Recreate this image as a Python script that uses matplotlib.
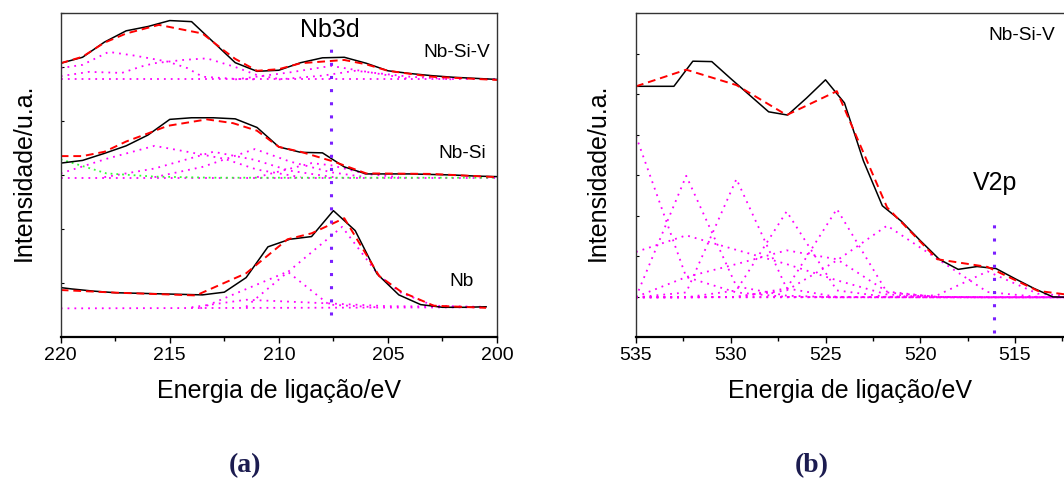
import matplotlib
matplotlib.use('Agg')
import matplotlib.pyplot as plt
from matplotlib.ticker import MultipleLocator, FixedLocator

plt.rcParams['font.family'] = ['Liberation Sans', 'DejaVu Sans']

# ---------------- Panel (a): Nb3d ----------------
E_a = [220, 219, 218, 217, 216, 215, 214, 213, 212, 211, 210,
       209, 208, 207, 206, 205, 204, 203, 202, 201, 200]
nbsiv_exp = [5.07, 5.18, 5.46, 5.67, 5.75, 5.86, 5.84, 5.46, 5.08, 4.92, 4.94,
             5.08, 5.17, 5.18, 5.07, 4.93, 4.88, 4.84, 4.81, 4.79, 4.77]
nbsi_exp = [3.22, 3.27, 3.40, 3.54, 3.74, 4.03, 4.06, 4.06, 4.04, 3.88, 3.52,
            3.42, 3.41, 3.15, 3.02, 3.02, 3.02, 3.01, 3.00, 2.98, 2.97]
E_nb = [220.5, 219.5, 218.5, 217.5, 216.5, 215.5, 214.5, 213.5, 212.5, 211.5, 210.5,
        209.5, 208.5, 207.5, 206.5, 205.5, 204.5, 203.5, 202.5, 201.5, 200.5]
nb_exp = [0.94, 0.89, 0.85, 0.82, 0.81, 0.80, 0.79, 0.78, 0.83, 1.10, 1.67,
          1.81, 1.86, 2.34, 1.97, 1.17, 0.78, 0.60, 0.55, 0.55, 0.56]

nbsiv_fit_E = [220, 219, 218, 217, 215.5, 214.5, 213.5, 212.5, 212, 211, 210, 209, 208, 207, 206, 205, 203, 200]
nbsiv_fit = [5.07, 5.19, 5.45, 5.62, 5.78, 5.70, 5.62, 5.30, 5.15, 4.93, 4.96, 5.07, 5.10, 5.13, 5.05, 4.93, 4.82, 4.76]
nbsi_fit_E = [220, 219, 218, 217, 216, 215.1, 213.3, 212.1, 211, 210, 209, 207.5, 206, 203, 200]
nbsi_fit = [3.35, 3.35, 3.43, 3.62, 3.77, 3.91, 4.03, 3.96, 3.82, 3.52, 3.43, 3.25, 3.03, 3.02, 2.96]
nb_fit_E = [220, 217.4, 213.8, 211.5, 209.6, 208.5, 207.0, 205.4, 204.4, 202.9, 200.5]
nb_fit = [0.87, 0.82, 0.77, 1.18, 1.81, 1.92, 2.20, 1.13, 0.84, 0.58, 0.54]

# fitted components (Nb-Si-V)
nbsiv_base_E = [220, 200]
nbsiv_base = [4.77, 4.77]
nbsiv_c1_E = [220, 219, 217.8, 216.6, 215.1, 214.2, 213.5, 212, 211]
nbsiv_c1 = [4.98, 5.04, 5.28, 5.21, 5.10, 4.98, 4.82, 4.78, 4.77]
nbsiv_c2_E = [220, 218.7, 217.2, 216.3, 215.7, 214.4, 213.3, 212.0, 211.0, 210]
nbsiv_c2 = [4.83, 4.91, 4.89, 5.01, 5.07, 5.13, 5.16, 5.00, 4.85, 4.78]
nbsiv_c3_E = [212, 209.5, 207.6, 205.5, 204]
nbsiv_c3 = [4.77, 4.90, 5.02, 4.88, 4.78]
nbsiv_c4_E = [210, 208, 206.5, 204, 202]
nbsiv_c4 = [4.77, 4.84, 4.93, 4.82, 4.77]

# fitted components (Nb-Si)
nbsi_base_E = [220, 200]
nbsi_base = [2.95, 2.95]
nbsi_green_E = [220, 217.9, 215.7, 213, 200]
nbsi_green = [3.29, 3.03, 2.97, 2.95, 2.95]
nbsi_c1_E = [220, 217.9, 215.7, 214.2, 212.5, 211, 209]
nbsi_c1 = [3.03, 3.30, 3.54, 3.43, 3.30, 3.10, 2.96]
nbsi_c2_E = [218, 215.7, 213.0, 211.1, 209.5, 207.5]
nbsi_c2 = [2.96, 3.12, 3.43, 3.28, 3.08, 2.96]
nbsi_c3_E = [215.7, 213.5, 211.1, 209.5, 207.6, 206]
nbsi_c3 = [2.96, 3.15, 3.48, 3.25, 3.05, 2.96]
nbsi_c4_E = [211, 208.5, 207.6, 206, 204.5]
nbsi_c4 = [2.96, 3.22, 3.18, 3.02, 2.96]

# fitted components (Nb)
nb_base_E = [220, 200.5]
nb_base = [0.53, 0.55]
nb_c1_E = [213.6, 209.6, 207.7, 205.5]
nb_c1 = [0.53, 1.21, 0.60, 0.55]
nb_c2_E = [211.5, 207.1, 205.4, 204.4, 202.9, 200.5]
nb_c2 = [0.56, 2.04, 1.13, 0.82, 0.58, 0.55]
nb_c3_E = [214.0, 211.5, 207.6, 205.0, 200.5]
nb_c3 = [0.55, 0.69, 0.62, 0.57, 0.56]

nb3d_E = 207.6
nb3d_span = [0.41, 5.45]

# ---------------- Panel (b): V2p ----------------
E_b = [535, 534, 533, 532, 531, 530, 529, 528, 527, 526, 525, 524,
       523, 522, 521, 520, 519, 518, 517, 516, 515, 514, 513, 512]
v_exp = [6.19, 6.19, 6.19, 6.81, 6.80, 6.38, 5.97, 5.56, 5.48, 5.90, 6.35, 5.78,
         4.35, 3.24, 2.86, 2.38, 1.92, 1.67, 1.74, 1.69, 1.44, 1.20, 0.99, 0.98]
E_g = [535, 532.35, 529.7, 527.05, 524.4, 521.75, 519.1, 516.45, 513.8, 511.15]
v_fit = [6.19, 6.60, 6.22, 5.48, 6.07, 3.20, 1.92, 1.73, 1.14, 0.98]
v_base_E = [535, 510]
v_base = [0.98, 0.98]
v_c0 = [4.96, 1.48, 1.10, 0.99, 0.98, 0.98, 0.98, 0.98, 0.98, 0.98]
v_c1 = [0.99, 3.98, 1.25, 1.02, 0.98, 0.98, 0.98, 0.98, 0.98, 0.98]
v_c2 = [0.98, 1.10, 3.90, 1.20, 0.99, 0.98, 0.98, 0.98, 0.98, 0.98]
v_c3 = [0.98, 0.98, 1.15, 3.10, 1.15, 0.99, 0.98, 0.98, 0.98, 0.98]
v_c4 = [0.98, 0.98, 0.99, 1.20, 3.16, 1.10, 0.99, 0.98, 0.98, 0.98]
v_c5 = [0.98, 0.98, 0.99, 1.15, 1.89, 2.75, 1.93, 1.11, 0.99, 0.98]
v_c6 = [2.10, 2.51, 2.15, 1.80, 1.40, 1.05, 0.99, 0.98, 0.98, 0.98]
v_c7 = [0.99, 1.48, 1.80, 2.14, 1.92, 1.12, 0.99, 0.98, 0.98, 0.98]
v_c8 = [0.98, 0.98, 0.98, 0.98, 0.98, 0.99, 1.03, 1.62, 1.07, 0.98]

v2p_E = 516.1
v2p_span = [0.10, 2.80]

xticks_a = [220, 215, 210, 205, 200]
xticks_b = [535, 530, 525, 520, 515]

# ---------------- styles ----------------
MAG = '#ff00ff'
RED = '#ff0000'
VIO = '#7b1fff'
comp_kw = dict(color=MAG, lw=1.3, linestyle=(0, (1, 2.8)))
fit_kw = dict(color=RED, lw=1.4, linestyle=(0, (4, 2.5)))
exp_kw = dict(color='black', lw=1.1)
vline_kw = dict(color=VIO, lw=2.2, linestyle=(0, (1, 3.3)))

fig = plt.figure(figsize=(10.64, 4.79), dpi=100)
W, H = 1064, 479
axA = fig.add_axes([60.7 / W, (H - 337) / H, 436.3 / W, 324 / H])
axB = fig.add_axes([636 / W, (H - 337) / H, 473.75 / W, 324 / H])

# panel a components
for ex, ey in [(nbsiv_base_E, nbsiv_base), (nbsiv_c1_E, nbsiv_c1), (nbsiv_c2_E, nbsiv_c2),
               (nbsiv_c3_E, nbsiv_c3), (nbsiv_c4_E, nbsiv_c4),
               (nbsi_base_E, nbsi_base), (nbsi_c1_E, nbsi_c1), (nbsi_c2_E, nbsi_c2),
               (nbsi_c3_E, nbsi_c3), (nbsi_c4_E, nbsi_c4),
               (nb_base_E, nb_base), (nb_c1_E, nb_c1), (nb_c2_E, nb_c2), (nb_c3_E, nb_c3)]:
    axA.plot(ex, ey, **comp_kw)
axA.plot(nbsi_green_E, nbsi_green, color='#33ff33', lw=1.3, linestyle=(0, (1, 2.2)))
axA.plot(E_a, nbsiv_exp, **exp_kw)
axA.plot(E_a, nbsi_exp, **exp_kw)
axA.plot(E_nb, nb_exp, **exp_kw)
axA.plot(nbsiv_fit_E, nbsiv_fit, **fit_kw)
axA.plot(nbsi_fit_E, nbsi_fit, **fit_kw)
axA.plot(nb_fit_E, nb_fit, **fit_kw)
axA.plot([nb3d_E, nb3d_E], nb3d_span, **vline_kw)

axA.set_xlim(220, 200)
axA.set_ylim(0, 6)

# panel b
for comp in [v_c0, v_c1, v_c2, v_c3, v_c4, v_c5, v_c6, v_c7, v_c8]:
    axB.plot(E_g, comp, **comp_kw)
axB.plot(v_base_E, v_base, **comp_kw)
axB.plot(E_b, v_exp, **exp_kw)
axB.plot(E_g, v_fit, **fit_kw)
axB.plot([v2p_E, v2p_E], v2p_span, **vline_kw)
axB.set_xlim(535, 510)
axB.set_ylim(0, 8)

axA.xaxis.set_major_locator(FixedLocator(xticks_a))
axB.xaxis.set_major_locator(FixedLocator(xticks_b))
for ax in (axA, axB):
    ax.xaxis.set_minor_locator(MultipleLocator(2.5))
    ax.yaxis.set_major_locator(MultipleLocator(1))
    ax.tick_params(axis='x', which='major', direction='out', length=4.5, width=1.0,
                   labelsize=14, pad=3, top=False)
    ax.tick_params(axis='x', which='minor', direction='out', length=3, width=1.0, top=False)
    ax.tick_params(axis='y', which='major', direction='in', length=2.5, width=0.8,
                   labelleft=False, right=False)
    for s in ('top', 'left', 'right'):
        ax.spines[s].set_linewidth(1.0)
        ax.spines[s].set_color('#333333')
    ax.spines['bottom'].set_linewidth(1.6)
    ax.set_ylabel('Intensidade/u.a.', fontsize=18)
    ax.set_xlabel('Energia de ligação/eV', fontsize=18)

axA.yaxis.set_label_coords(-0.084, 0.51)
axB.yaxis.set_label_coords(-0.080, 0.51)
axA.xaxis.set_label_coords(0.5, -0.167)
axB.xaxis.set_label_coords(0.452, -0.167)
for ax in (axA, axB):
    ax.xaxis.label.set_va('center')
    ax.yaxis.label.set_va('center')

# annotations
axA.text(0.617, 0.946, 'Nb3d', transform=axA.transAxes, fontsize=18, ha='center', va='center')
axA.text(0.908, 0.877, 'Nb-Si-V', transform=axA.transAxes, fontsize=13.8, ha='center', va='center')
axA.text(0.920, 0.565, 'Nb-Si', transform=axA.transAxes, fontsize=13.8, ha='center', va='center')
axA.text(0.919, 0.171, 'Nb', transform=axA.transAxes, fontsize=13.8, ha='center', va='center')
axB.text(0.814, 0.931, 'Nb-Si-V', transform=axB.transAxes, fontsize=13.8, ha='center', va='center')
axB.text(0.758, 0.475, 'V2p', transform=axB.transAxes, fontsize=18, ha='center', va='center')

fig.text(245 / W, 1 - 466 / H, '(a)', fontsize=20, fontweight='bold', family='Liberation Serif',
         color='#1c1c50', ha='center', va='center')
fig.text(812 / W, 1 - 466 / H, '(b)', fontsize=20, fontweight='bold', family='Liberation Serif',
         color='#1c1c50', ha='center', va='center')

fig.savefig('out.png', dpi=100)
